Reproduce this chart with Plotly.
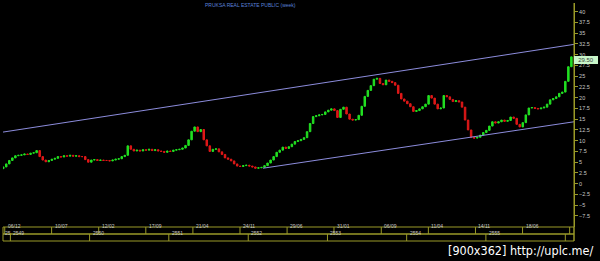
import plotly.graph_objects as go
import pandas as pd

# ---------------- data ----------------
start_date = "2005-11-29"          # first bi-weekly bar
closes = [
    3.9, 4.6, 5.4, 6.0, 6.5, 6.6, 6.7, 6.9, 6.8, 7.1,
    7.2, 7.7, 6.3, 5.5, 5.1, 5.4, 5.7, 5.9, 6.3, 6.2,
    6.5, 6.4, 6.6, 6.4, 6.5, 6.3, 6.3, 5.6, 5.0, 5.5,
    5.6, 5.4, 5.5, 5.4, 5.4, 5.3, 5.5, 5.7, 5.8, 6.3,
    6.6, 8.8, 8.0, 7.6, 7.8, 7.6, 7.9, 7.8, 8.0, 7.7,
    7.9, 7.6, 7.5, 7.3, 7.6, 7.5, 7.8, 7.9, 8.0, 8.3,
    8.9, 10.2, 12.2, 13.2, 12.1, 12.6, 10.2, 8.8, 7.5, 8.0,
    8.1, 7.4, 6.8, 6.0, 5.7, 5.3, 4.6, 4.1, 4.0, 4.2,
    4.3, 4.1, 3.9, 3.6, 3.7, 3.8, 4.2, 4.8, 5.5, 6.3,
    7.3, 7.8, 8.5, 8.2, 8.6, 9.2, 9.8, 10.0, 10.3, 10.7,
    12.1, 14.0, 15.6, 15.8, 16.0, 16.1, 16.7, 17.1, 17.4, 17.0,
    15.4, 17.3, 17.8, 16.2, 15.0, 14.8, 14.9, 15.9, 18.0, 20.3,
    21.7, 22.8, 24.3, 24.5, 23.3, 23.0, 24.1, 23.8, 23.5, 22.9,
    21.0, 19.7, 19.2, 18.6, 17.9, 16.8, 17.0, 17.4, 17.9, 18.5,
    20.5, 19.9, 18.5, 17.4, 17.6, 20.5, 20.2, 19.6, 19.1, 19.3,
    19.0, 17.8, 14.8, 12.5, 10.8, 10.6, 10.8, 11.3, 11.9, 12.4,
    13.4, 14.4, 14.1, 14.4, 14.8, 14.5, 14.7, 15.5, 15.2, 13.8,
    13.2, 14.2, 16.0, 17.6, 17.7, 17.5, 17.4, 17.6, 17.8, 18.5,
    19.5, 19.8, 20.2, 21.0, 21.3, 23.8, 27.2, 29.5,
]
first_open = 3.5
last_price_text = "29.50"

upper_dates = ["2005-11-28", "2013-02-10"]
upper_vals = [12.0, 32.4]
lower_dates = ["2009-03-10", "2013-02-10"]
lower_vals = [3.6, 14.4]

row1_dates = ["2005-12-06", "2006-07-10", "2007-02-12", "2007-09-17", "2008-04-21",
              "2008-11-24", "2009-06-29", "2010-01-31", "2010-09-06", "2011-04-11",
              "2011-11-14", "2012-06-18", "2013-01-21"]
row1_text = ["06/12", "10/07", "12/02", "17/09", "21/04", "24/11", "29/06",
             "31/01", "06/09", "11/04", "14/11", "18/06", ""]
year_dates = ["2006-01-01", "2007-01-01", "2008-01-01", "2009-01-01", "2010-01-01",
              "2011-01-01", "2012-01-01", "2013-01-01"]
year_text = ["2549", "2550", "2551", "2552", "2553", "2554", "2555", ""]

ytick_vals = [-7.5, -5, -2.5, 0, 2.5, 5, 7.5, 10, 12.5, 15, 17.5, 20, 22.5,
              25, 27.5, 30, 32.5, 35, 37.5, 40]

x_range = ["2005-11-28", "2013-02-10"]
y_range = [-10.07, 42.02]

# ---------------- figure ----------------
dates = pd.date_range(start_date, periods=len(closes), freq="14D")
opens = [first_open] + closes[:-1]
highs = [max(o, c) for o, c in zip(opens, closes)]
lows = [min(o, c) for o, c in zip(opens, closes)]

OLIVE = "#9a9a28"
TXT = "#c8c8c8"
FONT = "Liberation Sans"

fig = go.Figure()
fig.add_trace(go.Candlestick(
    x=dates, open=opens, high=highs, low=lows, close=closes,
    increasing=dict(line=dict(color="#22e022", width=1), fillcolor="#22e022"),
    decreasing=dict(line=dict(color="#e01818", width=1), fillcolor="#e01818"),
    whiskerwidth=0, showlegend=False, hoverinfo="skip",
))
fig.add_trace(go.Scatter(x=upper_dates, y=upper_vals, mode="lines",
                         line=dict(color="#8c8cdc", width=1), showlegend=False,
                         hoverinfo="skip"))
fig.add_trace(go.Scatter(x=lower_dates, y=lower_vals, mode="lines",
                         line=dict(color="#8c8cdc", width=1), showlegend=False,
                         hoverinfo="skip"))

shapes = []
r1_top, r1_bot, r2_bot = 0.0, -0.03125, -0.0625
for y0, y1 in [(r1_bot, r1_top), (r2_bot, r1_bot)]:
    shapes.append(dict(type="rect", xref="paper", yref="paper", x0=0, x1=1,
                       y0=y0, y1=y1, line=dict(color=OLIVE, width=1)))
shapes.append(dict(type="line", xref="paper", yref="paper", x0=1, x1=1,
                   y0=r2_bot, y1=1, line=dict(color=OLIVE, width=1)))
annotations = []
for d, t in zip(row1_dates, row1_text):
    shapes.append(dict(type="line", xref="x", yref="paper", x0=d, x1=d,
                       y0=r1_bot, y1=r1_top, line=dict(color=OLIVE, width=1)))
    if t:
        annotations.append(dict(x=d, y=(r1_top + r1_bot) / 2, xref="x", yref="paper",
                                text=t, showarrow=False, xanchor="left", xshift=1,
                                font=dict(size=5, color=TXT, family=FONT)))
for d, t in zip(year_dates, year_text):
    shapes.append(dict(type="line", xref="x", yref="paper", x0=d, x1=d,
                       y0=r2_bot, y1=r1_bot, line=dict(color=OLIVE, width=1)))
    if t:
        annotations.append(dict(x=d, y=(r1_bot + r2_bot) / 2, xref="x", yref="paper",
                                text=t, showarrow=False, xanchor="left", xshift=1,
                                font=dict(size=5, color=TXT, family=FONT)))
annotations.append(dict(x=x_range[0], y=(r1_bot + r2_bot) / 2, xref="x", yref="paper",
                        text="25", showarrow=False, xanchor="left", xshift=0,
                        font=dict(size=5, color=TXT, family=FONT)))

annotations.append(dict(x=0.434, y=0.991, xref="paper", yref="paper",
                        text="PRUKSA REAL ESTATE PUBLIC (week)", showarrow=False,
                        xanchor="center", yanchor="middle",
                        font=dict(size=5, color="#5a80d8", family=FONT)))
annotations.append(dict(x=1, y=closes[-1], xref="paper", yref="y", text=last_price_text,
                        showarrow=False, xanchor="left", yanchor="middle", yshift=-3,
                        xshift=0, bgcolor="#c8f5c8", bordercolor="#50c050",
                        borderwidth=0, borderpad=1, width=22,
                        font=dict(size=6, color="#404040", family=FONT)))
annotations.append(dict(x=1.0368, y=-0.103, xref="paper", yref="paper",
                        text="[900x362] http://uplc.me/", showarrow=False,
                        xanchor="right", yanchor="middle",
                        font=dict(size=12.5, color="#ffffff",
                                  family="Liberation Sans Narrow, DejaVu Sans Condensed, Liberation Sans")))

fig.update_layout(
    width=600, height=261,
    margin=dict(l=3, r=26, t=3, b=34),
    paper_bgcolor="#000000", plot_bgcolor="#000000",
    shapes=shapes, annotations=annotations,
    xaxis=dict(range=x_range, showgrid=False, zeroline=False, showticklabels=False,
               ticks="", showline=False, rangeslider=dict(visible=False)),
    yaxis=dict(range=y_range, side="right", showgrid=False, zeroline=False,
               tickvals=ytick_vals, ticks="outside", ticklen=3, tickcolor=OLIVE,
               showline=True, linecolor=OLIVE, linewidth=1,
               tickfont=dict(size=5.5, color=TXT, family=FONT)),
    hovermode=False,
)

fig.write_html("out.html")
